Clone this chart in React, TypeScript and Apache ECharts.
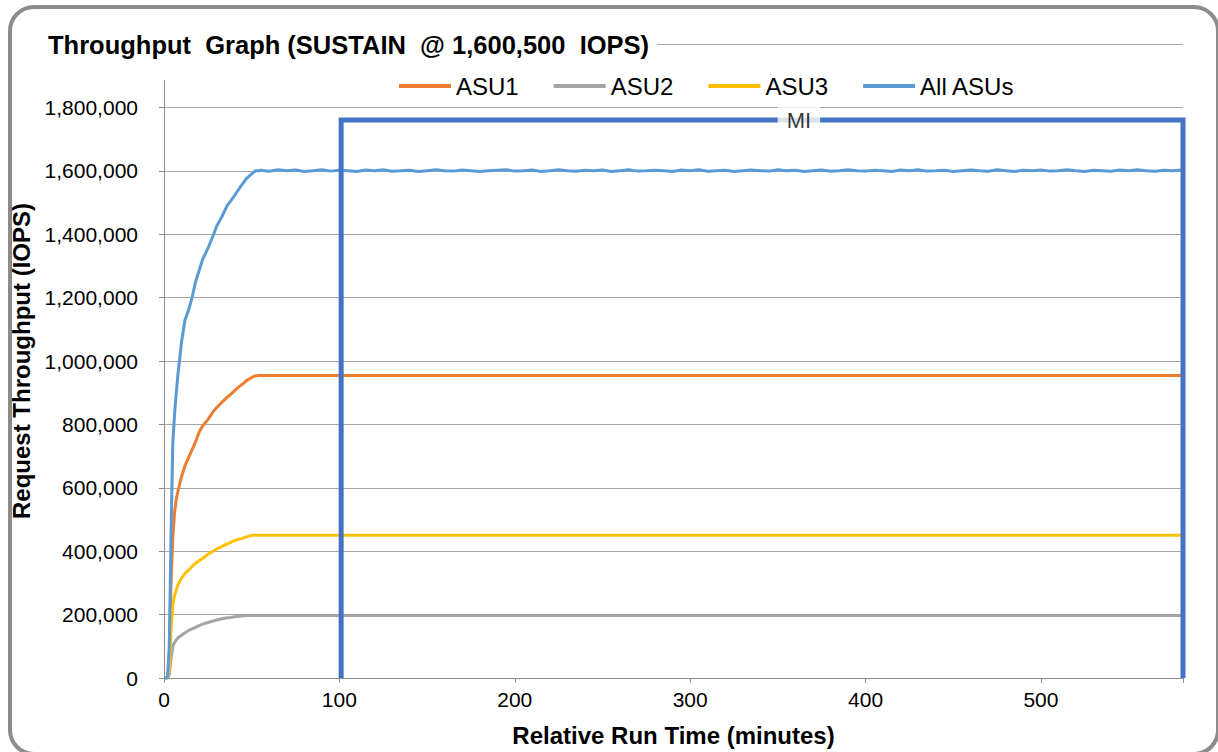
import React, { useEffect, useRef } from "react";
import * as echarts from "echarts";

// Ramp-up sample times (minutes)
const rampMinutes = [0, 1, 2, 3, 4, 5, 6, 7, 8, 10, 12, 14, 16, 18, 20, 22, 25, 28, 30, 33, 36, 38, 40, 43, 45, 47, 50, 52, 54];

const asu1Ramp = [0, 0, 0, 50000, 300000, 440000, 520000, 565000, 590000, 635000, 670000, 695000, 720000, 745000, 775000, 795000, 815000, 840000, 853000, 870000, 885000, 895000, 905000, 920000, 928000, 938000, 948000, 953000, 954000];
const asu2Ramp = [0, 0, 0, 10000, 60000, 100000, 112000, 120000, 127000, 135000, 143000, 150000, 155000, 160000, 165000, 170000, 175000, 180000, 183000, 187000, 190000, 191000, 193000, 195000, 196000, 197000, 197000, 197000, 197000];
const asu3Ramp = [0, 0, 0, 30000, 150000, 230000, 260000, 278000, 295000, 315000, 330000, 340000, 352000, 362000, 370000, 377000, 390000, 400000, 407000, 415000, 423000, 428000, 433000, 438000, 441000, 445000, 450000, 450000, 450000];
const allRamp = [0, 0, 0, 100000, 450000, 740000, 830000, 900000, 960000, 1060000, 1130000, 1160000, 1200000, 1250000, 1285000, 1320000, 1355000, 1395000, 1425000, 1455000, 1490000, 1505000, 1520000, 1545000, 1560000, 1575000, 1590000, 1600000, 1600500];

// Steady state
const runEnd = 581;
const asu1Steady = 954000;
const asu2Steady = 197000;
const asu3Steady = 450000;

const steadyStart = 55;
const steadyStep = 5;
const allSteady = [
  1601500, 1598500, 1603000, 1600000, 1602500, 1598000, 1600500, 1603500, 1599000, 1602000,
  1600000, 1597500, 1602500, 1600500, 1603000, 1598500, 1600000, 1602000, 1598000, 1600500,
  1603000, 1600000, 1599000, 1602500, 1600500, 1598000, 1600000, 1602000, 1603500, 1599000,
  1600500, 1602500, 1597500, 1600000, 1603000, 1600500, 1598500, 1602000, 1600000, 1602500,
  1598000, 1600500, 1603000, 1599000, 1600000, 1602000, 1600500, 1598000, 1602500, 1600000,
  1603000, 1598500, 1600500, 1602000, 1597500, 1600000, 1602500, 1600500, 1599000, 1603000,
  1600000, 1602000, 1598000, 1600500, 1602500, 1598500, 1600000, 1603500, 1600500, 1599000,
  1602000, 1600000, 1597500, 1602500, 1600500, 1603000, 1599000, 1600000, 1602000, 1598000,
  1600500, 1602500, 1600000, 1598500, 1603000, 1600500, 1598000, 1602000, 1600000, 1602500,
  1599000, 1600500, 1603000, 1600000, 1598000, 1602000, 1600500, 1598500, 1602500, 1600000,
  1603000, 1600500, 1598500, 1602000, 1600000, 1602500,
];

// Measurement interval
const miStart = 101;
const miEnd = 581;
const miLevel = 1760000;
const miLabelAt = 362;

const seriesNames = ["ASU1", "ASU2", "ASU3", "All ASUs"];
const seriesColors = ["#ED7D31", "#A5A5A5", "#FFC000", "#5B9BD5"];

const FONT = "'Liberation Sans', Arial, sans-serif";

export default function App() {
  const ref = useRef<HTMLDivElement>(null);

  useEffect(() => {
    if (!ref.current) return;
    const chart = echarts.init(ref.current, null, { renderer: "svg" });

    const pairs = (vals: number[]) => rampMinutes.map((t, i) => [t, vals[i]]);
    const asu1 = [...pairs(asu1Ramp), [runEnd, asu1Steady]];
    const asu2 = [...pairs(asu2Ramp), [runEnd, asu2Steady]];
    const asu3 = [...pairs(asu3Ramp), [runEnd, asu3Steady]];
    const all = [
      ...pairs(allRamp),
      ...allSteady.map((v, i) => [steadyStart + i * steadyStep, v]),
    ];
    const data = [asu1, asu2, asu3, all];

    const lineSeries = seriesNames.map((name, i) => ({
      name,
      type: "line",
      data: data[i],
      symbol: "none",
      showSymbol: false,
      lineStyle: { width: 3, color: seriesColors[i] },
      itemStyle: { color: seriesColors[i] },
      z: 2 + i,
    }));

    chart.setOption({
      animation: false,
      textStyle: { fontFamily: FONT },
      title: {
        text: "Throughput  Graph (SUSTAIN  @ 1,600,500  IOPS)",
        left: 44,
        top: 28,
        z: 1,
        padding: [4, 8, 22, 4],
        backgroundColor: "#ffffff",
        textStyle: { fontFamily: FONT, fontSize: 25.5, fontWeight: "bold", color: "#000" },
      },
      legend: {
        data: seriesNames,
        left: 394,
        top: 69,
        z: 4,
        icon: "rect",
        itemWidth: 52,
        itemHeight: 4,
        itemGap: 35,
        textStyle: { fontFamily: FONT, fontSize: 24, color: "#000" },
      },
      grid: { left: 164, right: 35, top: 44, bottom: 70 },
      xAxis: {
        type: "value",
        min: 0,
        max: runEnd,
        interval: 100,
        name: "Relative Run Time (minutes)",
        nameLocation: "middle",
        nameGap: 45,
        nameTextStyle: { fontFamily: FONT, fontSize: 24, fontWeight: "bold", color: "#000" },
        axisLine: { show: true, lineStyle: { color: "#8c8c8c", width: 1 } },
        axisTick: { show: true, length: 5, lineStyle: { color: "#8c8c8c" } },
        splitLine: { show: false },
        axisLabel: {
          fontSize: 21,
          color: "#000",
          margin: 11,
          formatter: (v: number) => (v % 100 === 0 ? String(v) : ""),
        },
      },
      yAxis: {
        type: "value",
        min: 0,
        max: 2000000,
        interval: 200000,
        name: "Request Throughput (IOPS)",
        nameLocation: "middle",
        nameGap: 125,
        nameTextStyle: { fontFamily: FONT, fontSize: 24, fontWeight: "bold", color: "#000" },
        axisLine: { show: true, lineStyle: { color: "#8c8c8c", width: 1 } },
        axisTick: { show: true, length: 5, lineStyle: { color: "#8c8c8c" } },
        splitLine: { show: true, lineStyle: { color: "#a6a6a6", width: 1 } },
        axisLabel: {
          fontSize: 21,
          color: "#000",
          margin: 26,
          formatter: (v: number) => (v >= 2000000 ? "" : v.toLocaleString("en-US")),
        },
      },
      series: [
        ...lineSeries,
        {
          name: "MI",
          type: "line",
          data: [
            [miStart, 0],
            [miStart, miLevel],
            [miEnd, miLevel],
            [miEnd, 0],
          ],
          symbol: "none",
          clip: false,
          lineStyle: { width: 5, color: "#4472C4", join: "miter" },
          z: 10,
        },
        {
          name: "MI label",
          type: "scatter",
          data: [[miLabelAt, miLevel]],
          symbolSize: 0,
          z: 11,
          label: {
            show: true,
            position: "inside",
            formatter: "MI",
            fontFamily: FONT,
            fontSize: 22,
            color: "#000",
            backgroundColor: "#ffffff",
            padding: [2, 9],
          },
        },
      ],
    });

    return () => chart.dispose();
  }, []);

  return (
    <div style={{ position: "absolute", left: 0, top: 0, width: 1218, height: 752, overflow: "hidden", background: "#fff" }}>
      <div
        style={{
          position: "absolute",
          left: 8,
          top: 5,
          width: 1212,
          height: 751,
          border: "4px solid #8c8c8c",
          borderRadius: 26,
          boxSizing: "border-box",
        }}
      />
      <div ref={ref} style={{ position: "absolute", left: 0, top: 0, width: 1218, height: 752 }} />
    </div>
  );
}
